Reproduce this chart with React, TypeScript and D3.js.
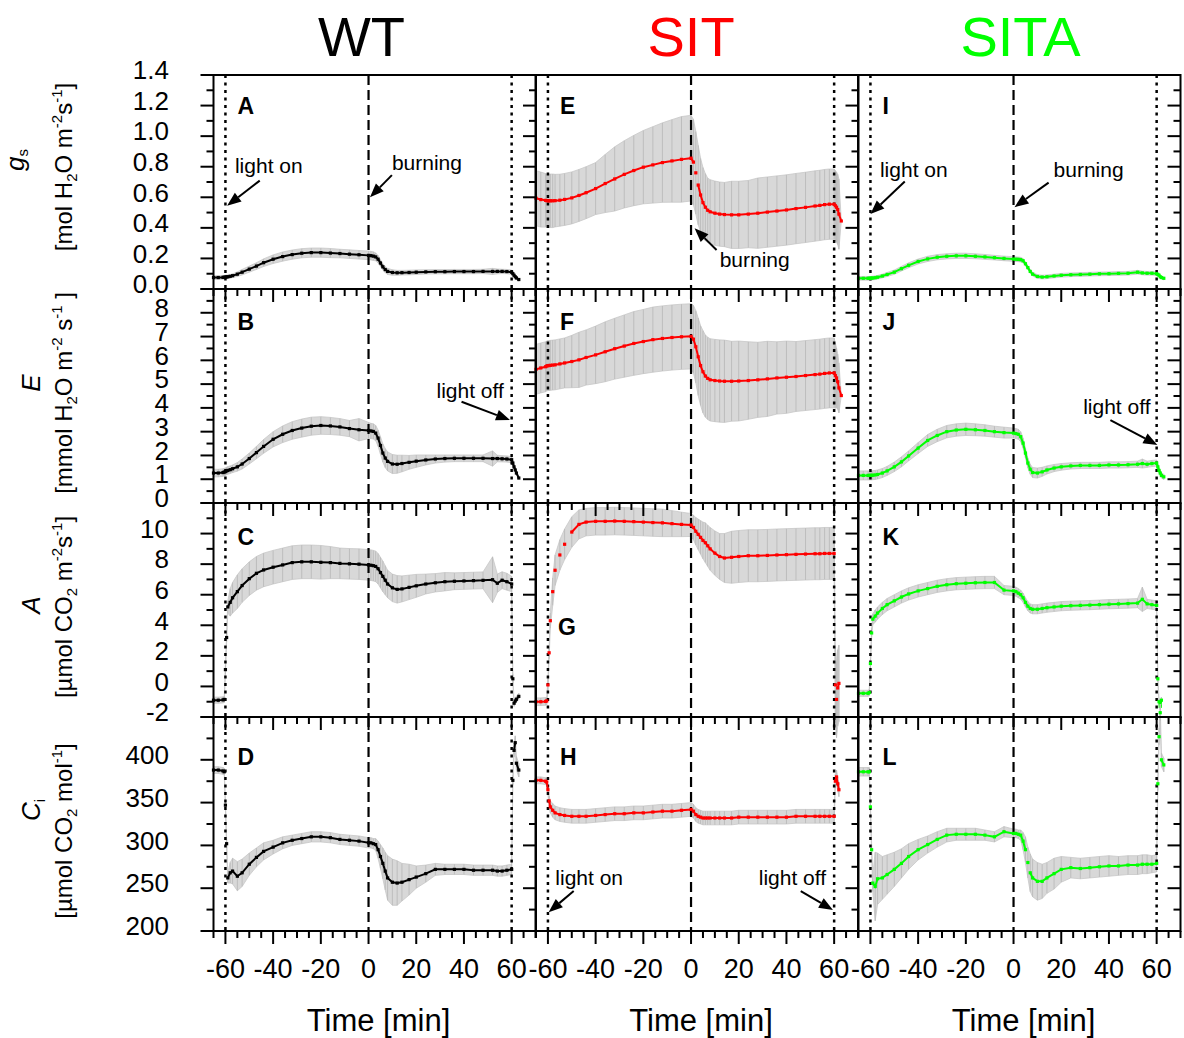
import React from 'react';
import * as d3 from 'd3';

// ---------- DATA ----------
const TIME = [-65,-63,-61,-60.5,-60,-59.5,-59,-58,-57,
  -55,-53,-50,-47,-44,-40,-36,-32,-28,-24,-20,-16,-12,-8,-4,
  0,1,2,3,4,5,6,7,8,
  10,12,14,17,20,24,28,32,36,40,44,48,52,54,56,58,
  60,60.5,61,61.5,62,63];

const WT_GS = [.075,.075,.076,.077,.078,.079,.08,.083,.087,
  .097,.11,.13,.15,.172,.195,.212,.225,.234,.238,.238,.235,.232,.228,.224,
  .22,.218,.215,.21,.195,.17,.145,.127,.115,
  .108,.106,.107,.108,.11,.112,.113,.113,.114,.114,.114,.115,.115,.115,.115,.114,
  .11,.1,.09,.08,.072,.062];
const WT_GS_ERR = [.012,.012,.012,.012,.012,.012,.012,.012,.012,
  .015,.018,.02,.022,.025,.028,.03,.03,.03,.03,.03,.03,.028,.028,.028,
  .028,.028,.028,.026,.024,.022,.02,.02,.02,
  .018,.016,.015,.015,.015,.014,.014,.014,.014,.014,.014,.014,.02,.016,.014,.014,
  .014,.012,.012,.01,.01,.01];

const WT_E = [1.26,1.26,1.28,1.30,1.32,1.35,1.37,1.40,1.44,
  1.52,1.64,1.87,2.12,2.38,2.68,2.89,3.05,3.15,3.23,3.26,3.24,3.20,3.13,3.08,
  3.05,3.03,3.01,2.94,2.73,2.42,2.10,1.89,1.75,
  1.64,1.63,1.66,1.71,1.76,1.81,1.85,1.87,1.88,1.88,1.88,1.88,1.87,1.87,1.86,1.85,
  1.82,1.68,1.52,1.39,1.26,1.05];
const WT_E_ERR = [.16,.16,.16,.16,.16,.16,.16,.16,.16,
  .18,.21,.23,.26,.29,.32,.35,.37,.38,.38,.37,.36,.35,.34,.47,
  .34,.32,.32,.32,.34,.37,.38,.40,.40,
  .40,.38,.35,.29,.26,.21,.17,.15,.14,.14,.14,.14,.32,.14,.13,.13,
  .13,.11,.08,.06,.05,.05];

const WT_A = [-0.9,-0.9,-0.88,-0.85,1.1,3.2,5.2,5.5,5.8,
  6.2,6.6,7.05,7.4,7.62,7.8,7.95,8.1,8.15,8.15,8.12,8.1,8.05,8.02,8.0,
  7.95,7.93,7.9,7.85,7.7,7.45,7.2,6.95,6.7,
  6.45,6.35,6.38,6.48,6.58,6.7,6.78,6.85,6.88,6.9,6.92,6.94,6.98,6.75,6.95,6.85,
  6.7,0.5,-1.1,-0.95,-0.84,-0.65];
const WT_A_ERR = [.2,.2,.2,.2,.3,.3,.4,.9,1.0,
  1.1,1.1,1.1,1.1,1.1,1.1,1.1,1.1,1.1,1.1,1.1,1.05,1.0,1.0,1.0,
  1.0,1.0,1.0,1.0,1.0,1.0,1.0,.95,.9,
  .9,.9,.85,.8,.75,.65,.6,.6,.55,.55,.55,.55,1.5,.6,.55,.55,
  .5,.3,.2,.2,.2,.2];

const WT_CI = [388,388,387,386,347,302,262,268,270,
  264,268,278,286,293,298,303,306,308,310,310,309,307,306,305,
  303,303,302,301,295,287,279,270,262,
  257,256,257,260,263,267,272,272,272,272,271,271,271,270,270,271,
  272,376,411,420,396,388];
const WT_CI_ERR = [4,4,4,4,5,5,6,12,15,
  17,16,13,11,10,8,7,6,6,6,6,6,6,6,6,
  6,6,6,7,10,14,18,22,26,
  27,26,22,18,13,10,7,6,6,6,6,6,6,6,6,6,
  6,6,8,8,8,8];

const SIT_GS = [.594,.585,.58,.578,.578,.577,.577,.577,.578,
  .581,.586,.596,.612,.63,.657,.69,.72,.75,.775,.797,.812,.827,.838,.848,
  .856,.83,.76,.68,.615,.565,.535,.515,.505,
  .496,.49,.487,.485,.485,.49,.496,.503,.51,.517,.526,.534,.543,.547,.552,.555,
  .555,.545,.535,.52,.49,.445];
const SIT_GS_ERR = [.18,.18,.175,.175,.175,.175,.175,.175,.172,
  .17,.17,.17,.17,.17,.17,.19,.21,.22,.23,.24,.25,.26,.27,.28,
  .28,.28,.27,.26,.24,.23,.22,.21,.21,
  .21,.21,.21,.22,.22,.22,.23,.23,.23,.23,.23,.23,.23,.23,.23,.23,
  .23,.23,.23,.23,.23,0];

const SIT_E = [5.62,5.68,5.73,5.76,5.78,5.78,5.79,5.80,5.81,
  5.85,5.89,5.95,6.02,6.12,6.23,6.36,6.49,6.60,6.71,6.79,6.87,6.92,6.96,6.99,
  7.01,6.89,6.57,6.15,5.78,5.52,5.34,5.24,5.18,
  5.15,5.13,5.12,5.12,5.13,5.15,5.18,5.22,5.26,5.29,5.32,5.36,5.40,5.42,5.45,5.47,
  5.47,5.36,5.26,5.10,4.84,4.52];
const SIT_E_ERR = [1.05,1.05,1.05,1.05,1.05,1.05,1.05,1.05,1.05,
  1.05,1.05,1.10,1.16,1.16,1.21,1.26,1.28,1.31,1.34,1.35,1.37,1.37,1.37,1.37,
  1.37,1.42,1.52,1.63,1.68,1.73,1.73,1.73,1.73,
  1.73,1.73,1.73,1.68,1.68,1.63,1.58,1.58,1.52,1.52,1.47,1.47,1.47,1.47,1.47,1.47,
  1.47,1.37,1.26,1.16,1.05,0];

const SIT_A = [-1.0,-1.0,-0.98,-0.95,0.1,2.2,4.3,6.2,7.6,
  8.6,9.3,10.1,10.6,10.75,10.8,10.8,10.82,10.8,10.78,10.75,10.72,10.7,10.65,10.6,
  10.56,10.4,10.15,9.95,9.75,9.55,9.4,9.2,9.0,
  8.72,8.5,8.4,8.45,8.5,8.55,8.55,8.57,8.6,8.62,8.64,8.66,8.68,8.68,8.7,8.7,
  8.7,0.1,-0.85,-0.1,0.2,null];
const SIT_A_ERR = [.25,.25,.25,.25,.4,.4,.5,.9,1.0,
  1.0,1.0,1.0,.95,.9,.9,.9,.9,.9,.9,.9,.9,.9,.85,.8,
  .75,.8,.9,1.0,1.1,1.2,1.3,1.35,1.4,
  1.45,1.5,1.6,1.7,1.7,1.7,1.7,1.7,1.7,1.7,1.7,1.7,1.7,1.7,1.7,1.7,
  1.7,2.5,2.5,2.5,2.5,0];

const SIT_CI = [376,376,375,374,365,352,345,341,338,
  336,335,334,334,334,335,336,337,337,338,338,339,340,340,341,
  342,340,336,334,333,332,332,332,332,
  332,332,332,332,333,333,333,333,333,333,334,334,334,334,334,334,
  334,375,380,372,365,null];
const SIT_CI_ERR = [4,4,4,4,5,6,7,8,8,
  8,8,8,8,8,8,8,8,8,8,8,8,8,8,8,
  8,8,8,8,8,8,8,8,8,
  8,8,8,8,8,8,8,8,8,8,8,8,8,8,8,8,
  8,8,8,8,8,0];

const SITA_GS = [.07,.07,.07,.07,.07,.071,.072,.074,.077,
  .085,.095,.11,.133,.155,.18,.197,.208,.214,.217,.217,.214,.21,.205,.2,
  .196,.195,.194,.192,.185,.165,.14,.115,.097,
  .082,.078,.08,.085,.09,.093,.095,.097,.099,.1,.102,.103,.11,.105,.103,.103,
  .1,.095,.09,.08,.075,.07];
const SITA_GS_ERR = [.012,.012,.012,.012,.012,.012,.012,.012,.012,
  .012,.013,.014,.015,.016,.016,.017,.017,.017,.017,.017,.016,.016,.015,.015,
  .015,.015,.015,.015,.014,.013,.012,.012,.012,
  .012,.012,.012,.012,.012,.012,.012,.012,.012,.012,.012,.012,.012,.012,.012,.012,
  .012,.01,.01,.01,.01,.01];

const SITA_E = [1.16,1.16,1.16,1.16,1.16,1.16,1.17,1.18,1.20,
  1.26,1.35,1.52,1.73,1.98,2.31,2.63,2.84,3.00,3.07,3.10,3.08,3.05,3.00,2.96,
  2.94,2.92,2.89,2.79,2.52,2.10,1.68,1.42,1.28,
  1.26,1.31,1.39,1.47,1.52,1.56,1.58,1.58,1.58,1.60,1.60,1.61,1.63,1.66,1.63,1.66,
  1.68,1.52,1.37,1.26,1.16,1.10];
const SITA_E_ERR = [.19,.19,.19,.19,.19,.19,.19,.19,.19,
  .19,.19,.20,.21,.21,.23,.25,.26,.26,.26,.26,.25,.24,.23,.23,
  .21,.21,.21,.21,.21,.21,.21,.21,.21,
  .21,.19,.17,.15,.14,.13,.13,.13,.13,.13,.13,.13,.13,.19,.13,.13,
  .13,.11,.11,.11,.11,.11];

const SITA_A = [-0.45,-0.45,-0.45,-0.4,1.5,3.5,4.4,4.6,4.8,
  5.1,5.35,5.6,5.85,6.05,6.25,6.4,6.55,6.65,6.72,6.75,6.78,6.8,6.8,6.3,
  6.25,6.2,6.1,6.0,5.8,5.5,5.25,5.1,5.05,
  5.05,5.1,5.15,5.2,5.25,5.28,5.3,5.32,5.35,5.38,5.4,5.42,5.45,5.7,5.4,5.35,
  5.3,0.5,-1.0,-1.3,-0.9,null];
const SITA_A_ERR = [.2,.2,.2,.2,.3,.3,.35,.4,.4,
  .4,.4,.4,.4,.4,.4,.4,.4,.4,.4,.4,.4,.4,.4,.3,
  .3,.3,.3,.3,.3,.3,.3,.3,.3,
  .3,.3,.3,.3,.3,.3,.3,.3,.3,.3,.3,.3,.3,.8,.3,.3,
  .3,.2,.2,.2,.2,0];

const SITA_CI = [386,386,386,386,345,295,256,252,261,
  262,266,272,279,287,295,301,307,312,313,313,313,312,310,316,
  314,314,313,312,305,295,280,268,262,
  258,258,262,267,272,274,273,274,275,276,276,277,277,278,278,278,
  279,372,427,455,400,394];
const SITA_CI_ERR = [5,5,5,5,5,6,10,40,30,
  25,23,20,17,15,12,10,9,8,7,7,7,6,6,6,
  5,5,5,6,10,15,18,22,22,
  22,20,18,18,15,12,12,12,12,12,11,11,11,11,11,10,
  10,8,10,10,8,8];

const GROUPS = ['WT', 'SIT', 'SITA'];
const GROUP_COLORS = ['#000000', '#ff0000', '#00ff00'];
const PANEL_LETTERS = [['A','E','I'],['B','F','J'],['C','G','K'],['D','H','L']];

const X_TICKS = [-60,-40,-20,0,20,40,60];
const GS_TICKS = [0,0.2,0.4,0.6,0.8,1.0,1.2,1.4];
const E_TICKS = [0,1,2,3,4,5,6,7,8];
const A_TICKS = [-2,0,2,4,6,8,10];
const CI_TICKS = [200,250,300,350,400];

// ---------- LAYOUT ----------
const FONT = '"Liberation Sans", Arial, Helvetica, sans-serif';
const PANEL_LEFT = [213.5, 536, 858.5];
const PANEL_W = 322;
const ROW_TOP = [75, 289, 503, 717];
const ROW_H = 214;
const X_DOMAIN: [number, number] = [-65, 70];

const ROWS = [
  { domain: [0, 1.4], ticks: GS_TICKS, majorStep: 0.2, minorStep: 0.1, fmt: (v: number) => v.toFixed(1), letterDy: 39 },
  { domain: [0, 9], ticks: E_TICKS, majorStep: 1, minorStep: 0.5, fmt: (v: number) => String(v), letterDy: 41 },
  { domain: [-2, 12], ticks: A_TICKS, majorStep: 2, minorStep: 1, fmt: (v: number) => String(v), letterDy: 42 },
  { domain: [200, 450], ticks: CI_TICKS, majorStep: 50, minorStep: 25, fmt: (v: number) => String(v), letterDy: 48 },
];

const SERIES = [
  [[WT_GS, WT_GS_ERR], [SIT_GS, SIT_GS_ERR], [SITA_GS, SITA_GS_ERR]],
  [[WT_E, WT_E_ERR], [SIT_E, SIT_E_ERR], [SITA_E, SITA_E_ERR]],
  [[WT_A, WT_A_ERR], [SIT_A, SIT_A_ERR], [SITA_A, SITA_A_ERR]],
  [[WT_CI, WT_CI_ERR], [SIT_CI, SIT_CI_ERR], [SITA_CI, SITA_CI_ERR]],
];

const NOTES = [
  { row: 0, col: 0, text: 'light on', tx: -56, ty: 0.758, x1: -45.6, y1: 0.709, x2: -59.3, y2: 0.545 },
  { row: 0, col: 0, text: 'burning', tx: 9.8, ty: 0.78, x1: 9.8, y1: 0.745, x2: 0.6, y2: 0.6 },
  { row: 1, col: 0, text: 'light off', tx: 28.5, ty: 4.42, x1: 39, y1: 4.26, x2: 59.3, y2: 3.49 },
  { row: 0, col: 1, text: 'burning', tx: 12, ty: 0.146, x1: 10.7, y1: 0.255, x2: 1.5, y2: 0.397 },
  { row: 3, col: 1, text: 'light on', tx: -56.9, ty: 253.7, x1: -49.2, y1: 246.7, x2: -59.7, y2: 222 },
  { row: 3, col: 1, text: 'light off', tx: 28.4, ty: 253.7, x1: 46, y1: 246.7, x2: 59.5, y2: 224.5 },
  { row: 0, col: 2, text: 'light on', tx: -56, ty: 0.735, x1: -45.6, y1: 0.703, x2: -60, y2: 0.49 },
  { row: 0, col: 2, text: 'burning', tx: 16.8, ty: 0.735, x1: 14.7, y1: 0.696, x2: 0.4, y2: 0.535 },
  { row: 1, col: 2, text: 'light off', tx: 29.2, ty: 3.74, x1: 40.6, y1: 3.49, x2: 60.3, y2: 2.44 },
];

function xScale(col: number) {
  return d3.scaleLinear().domain(X_DOMAIN).range([PANEL_LEFT[col], PANEL_LEFT[col] + PANEL_W]);
}
function yScale(row: number) {
  return d3.scaleLinear().domain(ROWS[row].domain).range([ROW_TOP[row] + ROW_H, ROW_TOP[row]]);
}
function stepTicks(lo: number, hi: number, step: number) {
  const out: number[] = [];
  const n = Math.floor((hi - lo) / step + 1e-6);
  for (let i = 0; i <= n; i++) out.push(+(lo + i * step).toFixed(6));
  return out;
}

function Arrow({ x1, y1, x2, y2 }: { x1: number; y1: number; x2: number; y2: number }) {
  const ang = Math.atan2(y2 - y1, x2 - x1);
  const L = 14, W = 5.5;
  const bx = x2 - L * Math.cos(ang), by = y2 - L * Math.sin(ang);
  const p1 = [bx + W * Math.sin(ang), by - W * Math.cos(ang)];
  const p2 = [bx - W * Math.sin(ang), by + W * Math.cos(ang)];
  return (
    <g>
      <line x1={x1} y1={y1} x2={bx} y2={by} stroke="#000" strokeWidth={2} />
      <polygon points={`${x2},${y2} ${p1[0]},${p1[1]} ${p2[0]},${p2[1]}`} fill="#000" />
    </g>
  );
}

type Pt = { t: number; m: number; e: number };

function Panel({ row, col }: { row: number; col: number }) {
  const x = xScale(col);
  const y = yScale(row);
  const [mean, err] = SERIES[row][col] as [(number | null)[], number[]];
  const color = GROUP_COLORS[col];
  const pts = TIME.map((t, i) => ({ t, m: mean[i], e: err[i] })).filter((p) => p.m != null) as Pt[];
  const area = d3.area<Pt>().x((p) => x(p.t)).y0((p) => y(p.m - p.e)).y1((p) => y(p.m + p.e));
  const line = d3.line<Pt>().x((p) => x(p.t)).y((p) => y(p.m));
  const segs: Pt[][] = [];
  let cur: Pt[] = [];
  pts.forEach((p, i) => {
    if (i > 0 && Math.abs(y(p.m) - y(pts[i - 1].m)) > 10) { segs.push(cur); cur = []; }
    cur.push(p);
  });
  segs.push(cur);
  const top = ROW_TOP[row], bot = ROW_TOP[row] + ROW_H;
  const letter = PANEL_LETTERS[row][col];
  return (
    <g>
      <path d={area(pts) || ''} fill="#d8d8d8" stroke="#c8c8c8" strokeWidth={0.8} />
      {pts.map((p, i) => (
        <line key={i} x1={x(p.t)} x2={x(p.t)} y1={y(p.m - p.e)} y2={y(p.m + p.e)} stroke="#bdbdbd" strokeWidth={1} />
      ))}
      <line x1={x(-60)} x2={x(-60)} y1={top} y2={bot} stroke="#000" strokeWidth={2.5} strokeDasharray="3,4.5" />
      <line x1={x(60)} x2={x(60)} y1={top} y2={bot} stroke="#000" strokeWidth={2.5} strokeDasharray="3,4.5" />
      <line x1={x(0)} x2={x(0)} y1={top} y2={bot} stroke="#000" strokeWidth={2.2} strokeDasharray="10,5" />
      {segs.filter((s) => s.length > 1).map((s, i) => (
        <path key={i} d={line(s) || ''} fill="none" stroke={color} strokeWidth={2} />
      ))}
      {pts.map((p, i) => (
        <rect key={i} x={x(p.t) - 1.6} y={y(p.m) - 1.6} width={3.2} height={3.2} fill={color} />
      ))}
      <text x={PANEL_LEFT[col] + (letter === 'G' ? 22 : 24)}
        y={letter === 'G' ? ROW_TOP[row] + 132 : ROW_TOP[row] + ROWS[row].letterDy}
        fontFamily={FONT} fontWeight="bold" fontSize={23} fill="#000">{letter}</text>
    </g>
  );
}

function Axes({ row, col }: { row: number; col: number }) {
  const x = xScale(col);
  const y = yScale(row);
  const cfg = ROWS[row];
  const L = PANEL_LEFT[col], R = L + PANEL_W;
  const top = ROW_TOP[row], bot = top + ROW_H;
  const yMinor = stepTicks(cfg.domain[0], cfg.domain[1], cfg.minorStep);
  const yMajorSet = new Set(stepTicks(cfg.domain[0], cfg.domain[1], cfg.majorStep));
  const xMinor = stepTicks(-65, 70, 5);
  const xMajorSet = new Set(X_TICKS);
  return (
    <g stroke="#000" strokeWidth={2}>
      <rect x={L} y={top} width={PANEL_W} height={ROW_H} fill="none" />
      {yMinor.map((v, i) => {
        const len = yMajorSet.has(v) ? 13 : 7;
        return (
          <g key={i}>
            <line x1={L - len} x2={L} y1={y(v)} y2={y(v)} />
            {col === 2 && <line x1={R - len} x2={R} y1={y(v)} y2={y(v)} />}
          </g>
        );
      })}
      {xMinor.map((v, i) => {
        const len = xMajorSet.has(v) ? 13 : 7;
        return <line key={i} x1={x(v)} x2={x(v)} y1={bot} y2={bot + len} />;
      })}
    </g>
  );
}

function YLabels({ row }: { row: number }) {
  const y = yScale(row);
  const cfg = ROWS[row];
  return (
    <g>
      {cfg.ticks.map((v) => (
        <text key={v} x={169} y={y(v) - 5 + 26 * 0.355} textAnchor="end" fontFamily={FONT} fontSize={26} fill="#000">
          {cfg.fmt(v)}
        </text>
      ))}
    </g>
  );
}

function XLabels({ col }: { col: number }) {
  const x = xScale(col);
  const bot = ROW_TOP[3] + ROW_H;
  return (
    <g>
      {X_TICKS.map((v) => (
        <text key={v} x={x(v)} y={bot + 47} textAnchor="middle" fontFamily={FONT} fontSize={27} fill="#000">
          {String(v)}
        </text>
      ))}
      <text x={x(0) + 10} y={1031} textAnchor="middle" fontFamily={FONT} fontSize={31} fill="#000">Time [min]</text>
    </g>
  );
}

function YTitle({ cx, cy, children, size }: { cx: number; cy: number; children: React.ReactNode; size: number }) {
  return (
    <text transform={`translate(${cx},${cy}) rotate(-90)`} textAnchor="middle" fontFamily={FONT} fontSize={size} fill="#000">
      {children}
    </text>
  );
}

export default function App() {
  const titles = (
    <g>
      <YTitle cx={24} cy={160} size={26}>
        <tspan fontStyle="italic">g</tspan><tspan fontSize={15} dy={4}>s</tspan>
      </YTitle>
      <YTitle cx={72} cy={167} size={24}>
        <tspan>[mol H</tspan><tspan fontSize={15} dy={5}>2</tspan><tspan dy={-5}>O m</tspan>
        <tspan fontSize={15} dy={-10}>-2</tspan><tspan dy={10}>s</tspan><tspan fontSize={15} dy={-10}>-1</tspan><tspan dy={10}>]</tspan>
      </YTitle>
      <YTitle cx={40} cy={383} size={26}>
        <tspan fontStyle="italic">E</tspan>
      </YTitle>
      <YTitle cx={72} cy={393} size={24}>
        <tspan>[mmol H</tspan><tspan fontSize={15} dy={5}>2</tspan><tspan dy={-5}>O m</tspan>
        <tspan fontSize={15} dy={-10}>-2</tspan><tspan dy={10}> s</tspan><tspan fontSize={15} dy={-10}>-1</tspan><tspan dy={10}> ]</tspan>
      </YTitle>
      <YTitle cx={40} cy={605} size={26}>
        <tspan fontStyle="italic">A</tspan>
      </YTitle>
      <YTitle cx={72} cy={607} size={24}>
        <tspan>[µmol CO</tspan><tspan fontSize={15} dy={5}>2</tspan><tspan dy={-5}> m</tspan>
        <tspan fontSize={15} dy={-10}>-2</tspan><tspan dy={10}>s</tspan><tspan fontSize={15} dy={-10}>-1</tspan><tspan dy={10}>]</tspan>
      </YTitle>
      <YTitle cx={40} cy={810} size={26}>
        <tspan fontStyle="italic">C</tspan><tspan fontSize={15} dy={5}>i</tspan>
      </YTitle>
      <YTitle cx={72} cy={831} size={24}>
        <tspan>[µmol CO</tspan><tspan fontSize={15} dy={5}>2</tspan><tspan dy={-5}> mol</tspan>
        <tspan fontSize={15} dy={-10}>-1</tspan><tspan dy={10}>]</tspan>
      </YTitle>
    </g>
  );

  const panels: React.ReactNode[] = [];
  const axes: React.ReactNode[] = [];
  for (let r = 0; r < 4; r++) for (let c = 0; c < 3; c++) {
    panels.push(<Panel key={`p${r}${c}`} row={r} col={c} />);
    axes.push(<Axes key={`a${r}${c}`} row={r} col={c} />);
  }

  return (
    <svg width={1184} height={1038} style={{ position: 'absolute', left: 0, top: 0, background: '#fff' }}>
      <rect x={0} y={0} width={1184} height={1038} fill="#fff" />
      {GROUPS.map((g, c) => (
        <text key={g} x={xScale(c)(0) + (c - 1) * 7} y={56} textAnchor="middle" fontFamily={FONT} fontSize={56} fill={GROUP_COLORS[c]}>{g}</text>
      ))}
      {titles}
      {panels}
      {axes}
      {[0, 1, 2, 3].map((r) => <YLabels key={r} row={r} />)}
      {[0, 1, 2].map((c) => <XLabels key={c} col={c} />)}
      {NOTES.map((n, i) => {
        const x = xScale(n.col), y = yScale(n.row);
        return (
          <g key={i}>
            <text x={x(n.tx)} y={y(n.ty)} fontFamily={FONT} fontSize={21} fill="#000">{n.text}</text>
            <Arrow x1={x(n.x1)} y1={y(n.y1)} x2={x(n.x2)} y2={y(n.y2)} />
          </g>
        );
      })}
    </svg>
  );
}
